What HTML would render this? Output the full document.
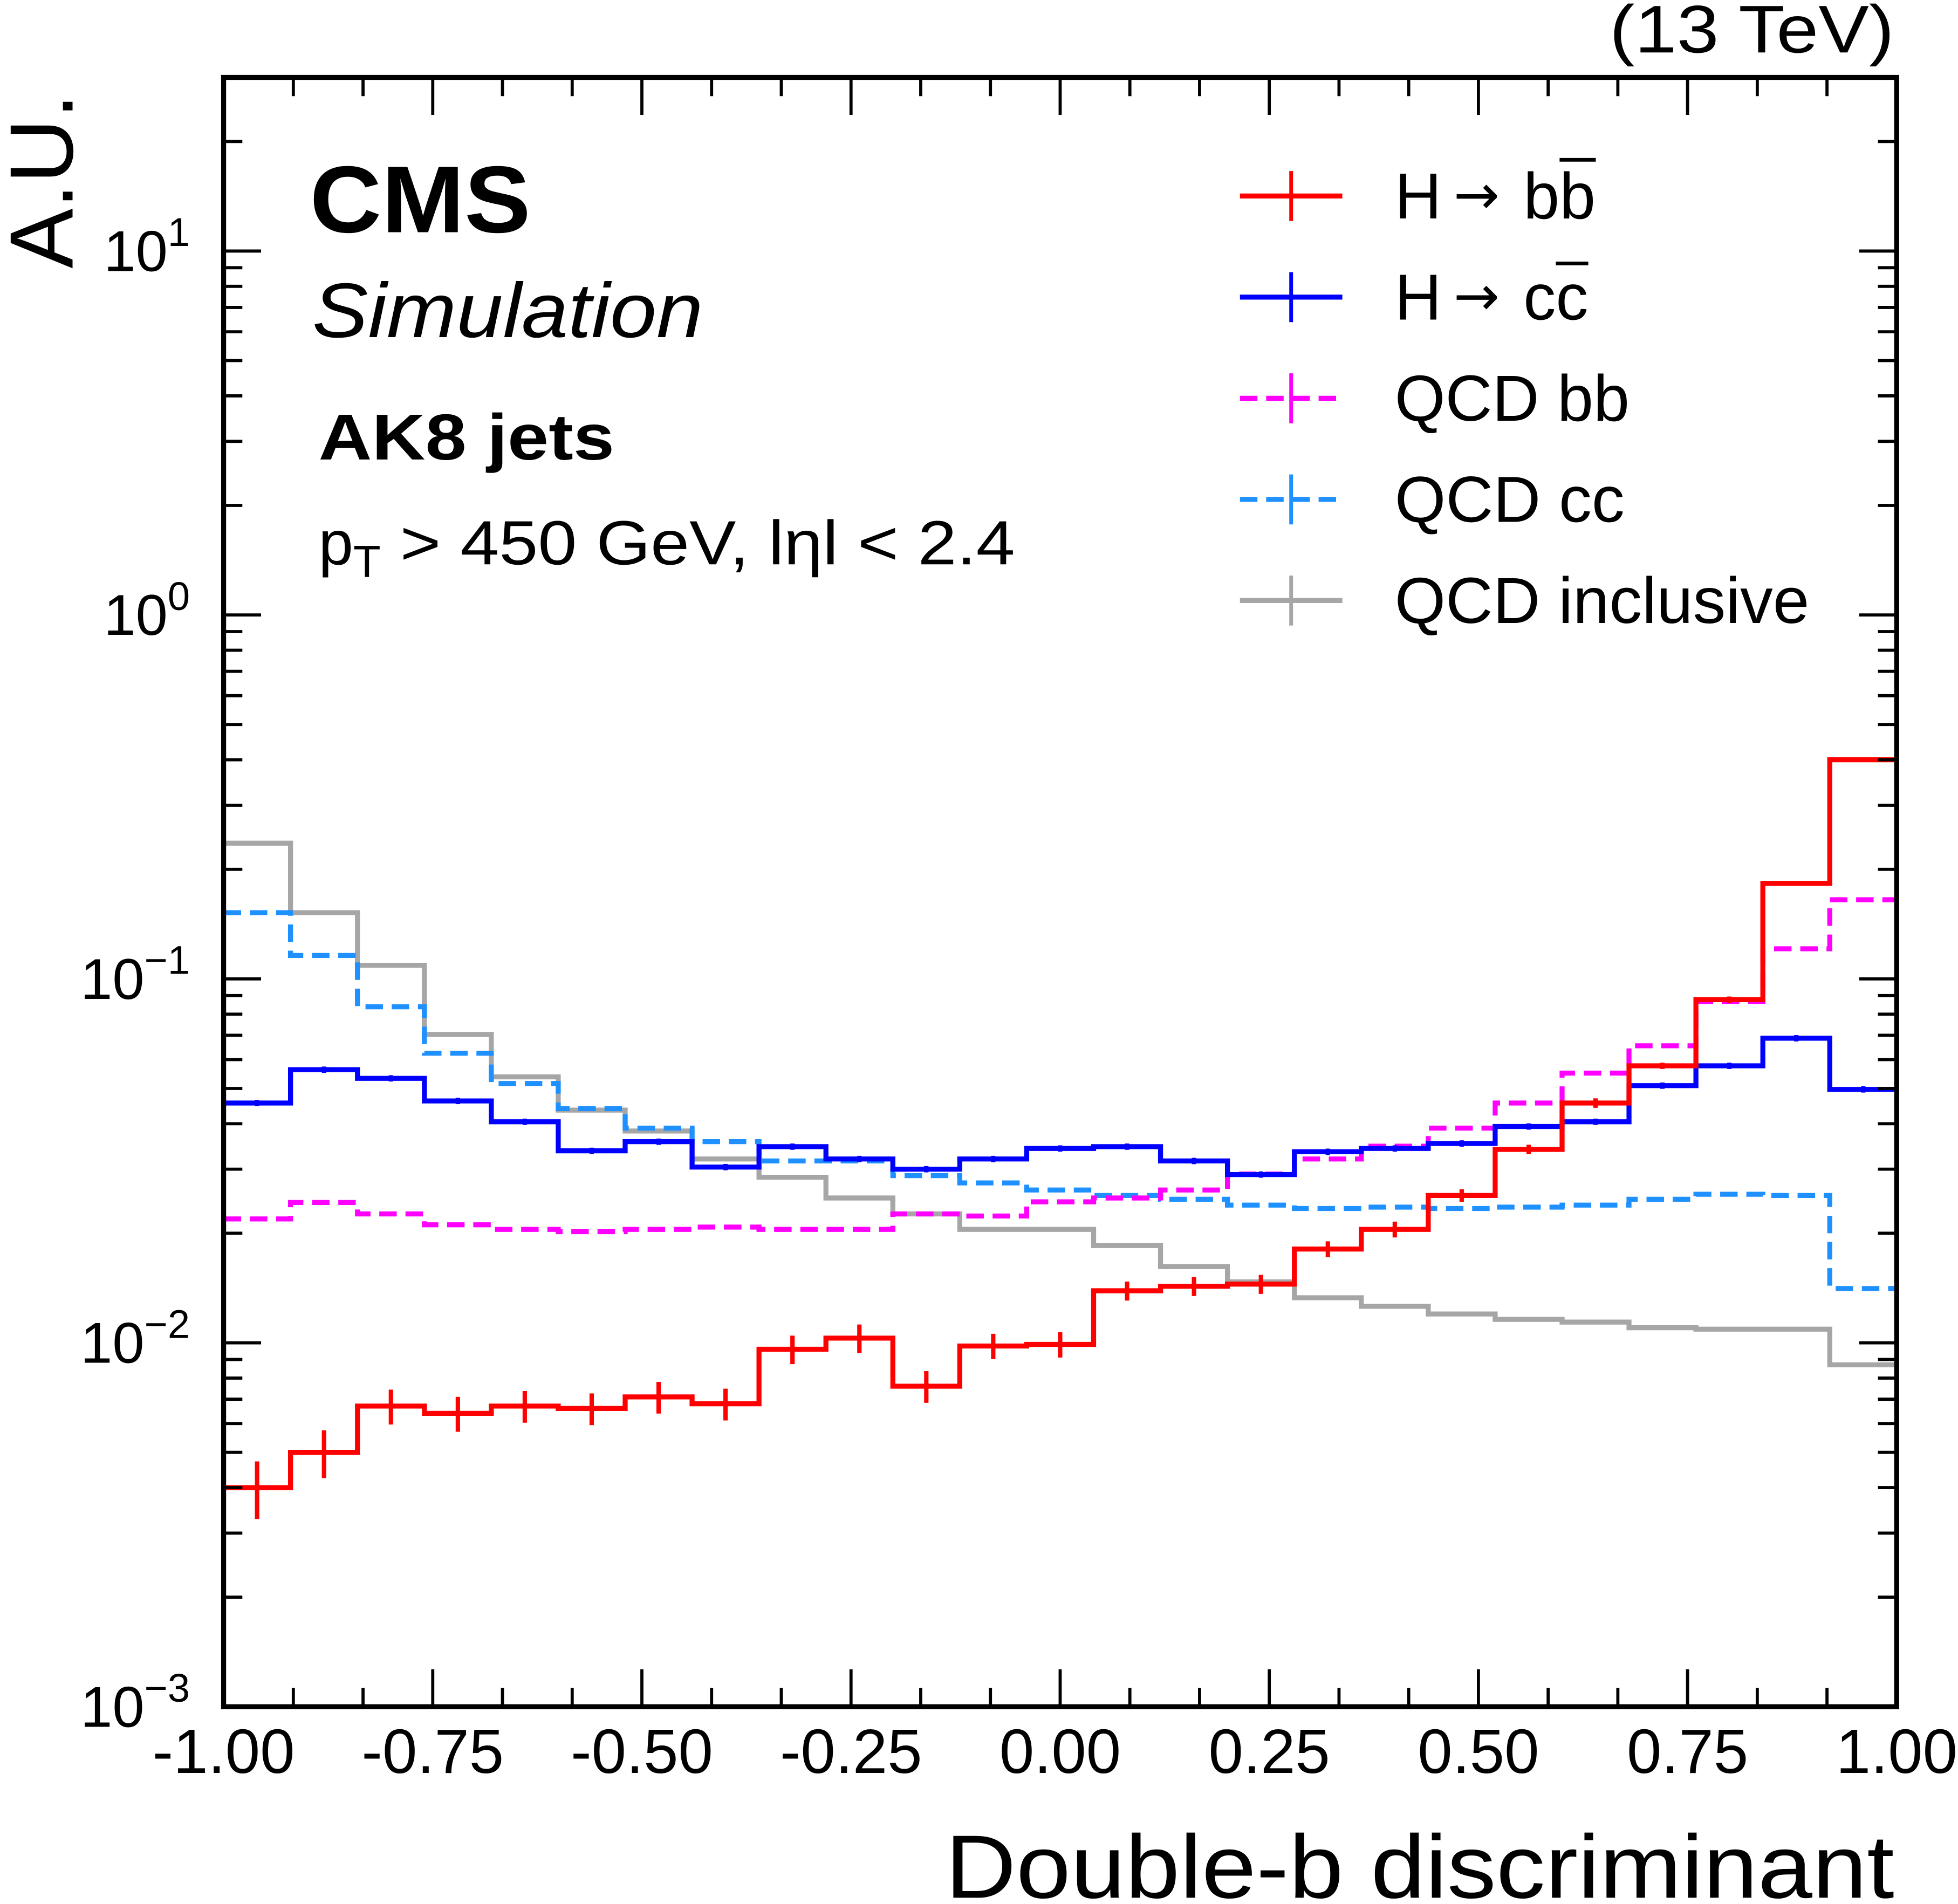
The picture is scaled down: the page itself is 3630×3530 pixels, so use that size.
<!DOCTYPE html>
<html><head><meta charset="utf-8"><style>
html,body{margin:0;padding:0;background:#fff;}
svg{display:block;font-family:"Liberation Sans",sans-serif;}
</style></head><body>
<svg id="chart" width="3630" height="3530" viewBox="0 0 1568 1525" xmlns="http://www.w3.org/2000/svg">
<g id="plot"></g>
<g id="axes"></g>
<text x="1517" y="42" text-anchor="end" font-size="54" textLength="228" lengthAdjust="spacingAndGlyphs">(13 TeV)</text>
<text transform="translate(58,215) rotate(-90)" font-size="72">A.U.</text>
<text x="757" y="1520" font-size="72" textLength="760" lengthAdjust="spacingAndGlyphs">Double-b discriminant</text>
<text x="248" y="186" font-size="76" font-weight="bold" textLength="177" lengthAdjust="spacingAndGlyphs">CMS</text>
<text x="250" y="270" font-size="62" font-style="italic" textLength="313" lengthAdjust="spacingAndGlyphs">Simulation</text>
<text x="255" y="368" font-size="52" font-weight="bold" textLength="237" lengthAdjust="spacingAndGlyphs">AK8 jets</text>
<text x="255" y="452" font-size="50">p<tspan font-size="36" dy="10">T</tspan><tspan dy="-10" textLength="508" lengthAdjust="spacingAndGlyphs"> &gt; 450 GeV, lηl &lt; 2.4</tspan></text>
<g id="legend"></g>
</svg>
<script>
const categories = ["H→bb","H→cc","QCD bb","QCD cc","QCD inclusive"];
const hbb = [0.0040,0.0050,0.0067,0.0064,0.0067,0.0066,0.0071,0.0068,0.0096,0.0103,0.0076,0.0098,0.0099,0.0139,0.0143,0.0145,0.0181,0.0205,0.0254,0.0340,0.0456,0.0577,0.0877,0.183,0.400];
const hcc = [0.0456,0.0563,0.0533,0.0462,0.0405,0.0337,0.0357,0.0304,0.0346,0.0320,0.0300,0.0320,0.0342,0.0346,0.0316,0.0290,0.0335,0.0342,0.0353,0.0393,0.0405,0.0509,0.0577,0.0687,0.0497];
const qcdbb = [0.0219,0.0243,0.0226,0.0211,0.0205,0.0202,0.0205,0.0208,0.0205,0.0205,0.0226,0.0223,0.0244,0.0250,0.0263,0.0291,0.0320,0.0347,0.0389,0.0456,0.0551,0.0655,0.0867,0.121,0.165];
const qcdcc = [0.152,0.116,0.0838,0.0625,0.0516,0.0440,0.0389,0.0357,0.0316,0.0316,0.0288,0.0275,0.0263,0.0254,0.0248,0.0239,0.0234,0.0236,0.0234,0.0236,0.0239,0.0248,0.0256,0.0254,0.0141];
const qcdincl = [0.236,0.152,0.109,0.0704,0.0538,0.0436,0.0382,0.0320,0.0285,0.0250,0.0226,0.0205,0.0205,0.0185,0.0162,0.0147,0.0133,0.0126,0.0120,0.0116,0.0114,0.0110,0.0109,0.0109,0.0087];
const hbbErr = [0.18,0.15,0.11,0.11,0.10,0.10,0.10,0.10,0.09,0.09,0.10,0.08,0.08,0.06,0.06,0.06,0.05,0.05,0.04,0.03,0.03,0.02,0.02,0.01,0.01];
const hccErr = [0.02,0.02,0.02,0.02,0.02,0.02,0.02,0.02,0.02,0.02,0.02,0.02,0.02,0.02,0.02,0.02,0.02,0.02,0.02,0.02,0.02,0.02,0.02,0.02,0.02];
const xTickLabels = ["-1.00","-0.75","-0.50","-0.25","0.00","0.25","0.50","0.75","1.00"];
const yTickExps = ["−3","−2","−1","0","1"];

const NS="http://www.w3.org/2000/svg";
const L=179,R=1519,T=62,B=1367;
const xmin=-1,xmax=1,ymin=-3,ymax=Math.log10(30);
const X=v=>L+(v-xmin)/(xmax-xmin)*(R-L);
const Y=v=>B-(Math.log10(v)-ymin)/(ymax-ymin)*(B-T);
const nb=25,bw=(xmax-xmin)/nb;
function el(tag,attrs,parent){const e=document.createElementNS(NS,tag);for(const k in attrs)e.setAttribute(k,attrs[k]);parent.appendChild(e);return e;}
const plot=document.getElementById('plot'),axes=document.getElementById('axes'),legend=document.getElementById('legend');
const series=[
 {name:"qcd-inclusive",vals:qcdincl,color:"#a6a6a6",dash:null,err:null},
 {name:"qcd-cc",vals:qcdcc,color:"#1e90ff",dash:"14,7",err:null},
 {name:"qcd-bb",vals:qcdbb,color:"#ff00ff",dash:"14,7",err:null},
 {name:"h-cc",vals:hcc,color:"#0000ff",dash:null,err:hccErr},
 {name:"h-bb",vals:hbb,color:"#ff0000",dash:null,err:hbbErr}
];
series.forEach(s=>{
 let d="";
 s.vals.forEach((v,i)=>{const x0=X(xmin+i*bw),x1=X(xmin+(i+1)*bw),y=Y(v);d+=(i===0?"M"+x0+","+y:"L"+x0+","+y)+"L"+x1+","+y;});
 const p=el('path',{d:d,fill:"none",stroke:s.color,"stroke-width":4},plot);
 if(s.dash)p.setAttribute('stroke-dasharray',s.dash);
 
 
 if(s.err){s.vals.forEach((v,i)=>{const xc=X(xmin+(i+0.5)*bw);
  const e=el('line',{x1:xc,x2:xc,y1:Y(v*(1+s.err[i])),y2:Y(v*(1-s.err[i])),stroke:s.color,"stroke-width":3.5},plot);
  
  });}
});
const fr=el('rect',{x:L,y:T,width:R-L,height:B-T,fill:"none",stroke:"#000","stroke-width":4},axes);


for(let k=0;k<=24;k++){const v=xmin+k*(0.25/3);const x=X(v);const len=(k%3===0)?30:15;
 el('line',{x1:x,x2:x,y1:B,y2:B-len,stroke:"#000","stroke-width":2.5},axes);
 el('line',{x1:x,x2:x,y1:T,y2:T+len,stroke:"#000","stroke-width":2.5},axes);}
xTickLabels.forEach((t,i)=>{const tx=el('text',{x:X(xmin+i*0.25),y:1420,"text-anchor":"middle","font-size":50},axes);tx.textContent=t;
 
 });
for(let e=-3;e<=1;e++){for(let m=1;m<=9;m++){const v=m*Math.pow(10,e);if(v>30)break;const y=Y(v);const len=m===1?30:15;
 el('line',{x1:L,x2:L+len,y1:y,y2:y,stroke:"#000","stroke-width":2.5},axes);
 el('line',{x1:R,x2:R-len,y1:y,y2:y,stroke:"#000","stroke-width":2.5},axes);}}
yTickExps.forEach((t,i)=>{const y=Y(Math.pow(10,i-3));const tx=el('text',{x:152,y:y+16,"text-anchor":"end","font-size":46},axes);
 tx.innerHTML='10<tspan font-size="32" dy="-20">'+t+'</tspan>';
 
 });
const leg=[["H","b","#ff0000",null],["H","c","#0000ff",null],["QCD bb","","#ff00ff","14,7"],["QCD cc","","#1e90ff","14,7"],["QCD inclusive","","#a6a6a6",null]];
leg.forEach((l,i)=>{const y=157+i*81;
 const g=el('g',{},legend);
 
 
 const ln=el('line',{x1:993,x2:1075,y1:y,y2:y,stroke:l[2],"stroke-width":4},g);if(l[3])ln.setAttribute('stroke-dasharray',l[3]);
 el('line',{x1:1034,x2:1034,y1:y-20,y2:y+20,stroke:l[2],"stroke-width":3},g);
 if(l[1]){
  const t1=el('text',{x:1117,y:y+18,"font-size":52},g);t1.textContent="H";
  const t2=el('text',{x:1164,y:y+14,"font-size":44,"font-family":"DejaVu Sans"},g);t2.textContent="→";
  const t3=el('text',{x:1220,y:y+18,"font-size":52},g);t3.textContent=l[1]+l[1];
  const w=l[1]==='b'?29:26;const xs=1220+w;
  el('line',{x1:xs,x2:xs+w,y1:y-(l[1]==='b'?29:27),y2:y-(l[1]==='b'?29:27),stroke:"#000","stroke-width":3},g);
 } else {
  const tx=el('text',{x:1117,y:y+18,"font-size":52},g);
  tx.textContent=l[0];tx.setAttribute('textLength',l[0]==='QCD inclusive'?332:(l[0]==='QCD bb'?188:184));tx.setAttribute('lengthAdjust','spacingAndGlyphs');}
});
</script>
</body></html>
